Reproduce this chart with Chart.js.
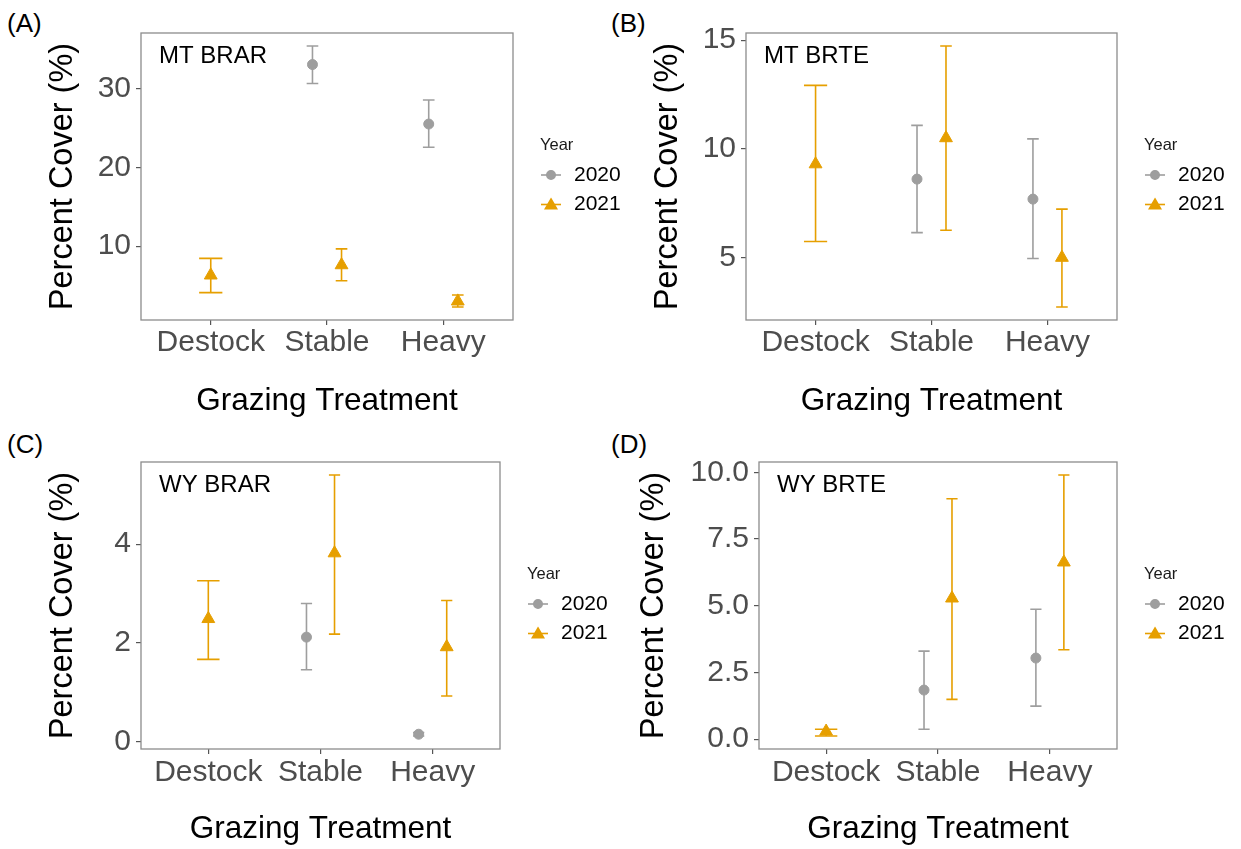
<!DOCTYPE html>
<html>
<head>
<meta charset="utf-8">
<script src="https://cdn.jsdelivr.net/npm/chart.js@4.4.1/dist/chart.umd.min.js"></script>
<style>
  body { margin: 0; background: #fff; width: 1241px; height: 849px; position: relative; overflow: hidden;
         font-family: "Liberation Sans", Arial, sans-serif; }
  canvas { position: absolute; }
  .tag { position: absolute; font-size: 26px; line-height: 26px; color: #000; }
</style>
</head>
<body>
<div class="tag" style="left:7px;top:10px">(A)</div>
<div class="tag" style="left:611px;top:10px">(B)</div>
<div class="tag" style="left:7px;top:431px">(C)</div>
<div class="tag" style="left:611px;top:431px">(D)</div>
<canvas id="chartA" width="640" height="420" style="left:0;top:0"></canvas>
<canvas id="chartB" width="636" height="420" style="left:605px;top:0"></canvas>
<canvas id="chartC" width="640" height="429" style="left:0;top:420px"></canvas>
<canvas id="chartD" width="636" height="429" style="left:605px;top:420px"></canvas>
<script>
const categories = ['Destock', 'Stable', 'Heavy'];
const years = ['2020', '2021'];

// MT BRAR
const mtBrar2020 = [null, 33.05, 25.5];
const mtBrar2020Lo = [null, 30.65, 22.55];
const mtBrar2020Hi = [null, 35.4, 28.55];
const mtBrar2021 = [6.3, 7.6, 3.0];
const mtBrar2021Lo = [4.1, 5.6, 2.28];
const mtBrar2021Hi = [8.45, 9.65, 3.8];

// MT BRTE
const mtBrte2020 = [null, 8.61, 7.69];
const mtBrte2020Lo = [null, 6.15, 4.96];
const mtBrte2020Hi = [null, 11.08, 10.46];
const mtBrte2021 = [9.3, 10.5, 5.0];
const mtBrte2021Lo = [5.74, 6.26, 2.73];
const mtBrte2021Hi = [12.92, 14.73, 7.23];

// WY BRAR
const wyBrar2020 = [null, 2.12, 0.155];
const wyBrar2020Lo = [null, 1.46, 0.12];
const wyBrar2020Hi = [null, 2.8, 0.19];
const wyBrar2021 = [2.49, 3.82, 1.92];
const wyBrar2021Lo = [1.67, 2.18, 0.93];
const wyBrar2021Hi = [3.26, 5.4, 2.86];

// WY BRTE
const wyBrte2020 = [null, 1.84, 3.04];
const wyBrte2020Lo = [null, 0.37, 1.24];
const wyBrte2020Hi = [null, 3.3, 4.87];
const wyBrte2021 = [0.29, 5.28, 6.63];
const wyBrte2021Lo = [0.12, 1.49, 3.35];
const wyBrte2021Hi = [0.37, 9.01, 9.9];

const ticksMtBrar = [10, 20, 30];
const ticksMtBrte = [5, 10, 15];
const ticksWyBrar = [0, 2, 4];
const ticksWyBrte = [0, 2.5, 5, 7.5, 10];

const grey = '#9e9e9e';
const orange = '#E69F00';
const tickGrey = '#4D4D4D';

Chart.defaults.font.family = '"Liberation Sans", Arial, sans-serif';

// error bars under the points, cap width shrinks when two years share a category
const errorBars = {
  id: 'errorBars',
  beforeDatasetsDraw(chart) {
    const ctx = chart.ctx, xs = chart.scales.x, ys = chart.scales.y;
    chart.data.datasets.forEach((ds) => {
      ctx.save();
      ctx.strokeStyle = ds.borderColor;
      ctx.lineWidth = 1.6;
      ds.data.forEach((p) => {
        const x = xs.getPixelForValue(p.x);
        const x0 = xs.getPixelForValue(p.x - p.cap), x1 = xs.getPixelForValue(p.x + p.cap);
        const yLo = ys.getPixelForValue(p.lo), yHi = ys.getPixelForValue(p.hi);
        ctx.beginPath();
        ctx.moveTo(x, yLo); ctx.lineTo(x, yHi);
        ctx.moveTo(x0, yLo); ctx.lineTo(x1, yLo);
        ctx.moveTo(x0, yHi); ctx.lineTo(x1, yHi);
        ctx.stroke();
      });
      ctx.restore();
    });
  }
};

// panel border, site label and the Year legend
const panelDecor = {
  id: 'panelDecor',
  afterDraw(chart, args, opts) {
    const ctx = chart.ctx, a = chart.chartArea;
    ctx.save();
    ctx.strokeStyle = '#8c8c8c';
    ctx.lineWidth = 1.3;
    ctx.strokeRect(a.left, a.top, a.right - a.left, a.bottom - a.top);

    ctx.fillStyle = '#000';
    ctx.font = '24px "Liberation Sans", Arial, sans-serif';
    ctx.textBaseline = 'alphabetic';
    ctx.textAlign = 'left';
    ctx.fillText(opts.label, a.left + 18, a.top + 29.5);

    const cy = (a.top + a.bottom) / 2;
    ctx.textBaseline = 'middle';
    ctx.font = '16.5px "Liberation Sans", Arial, sans-serif';
    ctx.fillStyle = '#1a1a1a';
    ctx.fillText('Year', a.right + 27, cy - 31);
    ctx.font = '21px "Liberation Sans", Arial, sans-serif';
    chart.data.datasets.forEach((ds, i) => {
      const y = cy - 1.5 + i * 29.5;
      ctx.strokeStyle = ds.borderColor;
      ctx.lineWidth = 1.6;
      ctx.beginPath();
      ctx.moveTo(a.right + 28, y); ctx.lineTo(a.right + 48, y);
      ctx.stroke();
      ctx.fillStyle = ds.backgroundColor;
      Chart.helpers.drawPoint(ctx, {
        pointStyle: ds.pointStyle, radius: ds.pointStyle === 'circle' ? 4.2 : 6.5,
        rotation: 0, borderWidth: 1
      }, a.right + 38, y + (ds.pointStyle === 'circle' ? 0 : 1));
      ctx.fillStyle = '#000';
      ctx.fillText(ds.label, a.right + 61, y);
    });
    ctx.restore();
  }
};

function buildPoints(means, los, his, other) {
  const pts = [];
  means.forEach((m, i) => {
    if (m === null) return;
    const paired = other[i] !== null;
    pts.push({ x: i + 1, y: m, lo: los[i], hi: his[i], paired: paired, cap: paired ? 0.05 : 0.1 });
  });
  return pts;
}

function makePanel(id, p) {
  const p2020 = buildPoints(p.v2020, p.lo2020, p.hi2020, p.v2021);
  const p2021 = buildPoints(p.v2021, p.lo2021, p.hi2021, p.v2020);
  p2020.forEach((d) => { if (d.paired) d.x -= 0.125; });
  p2021.forEach((d) => { if (d.paired) d.x += 0.125; });

  // ggplot style 5% expansion of the data range
  const lows = p.lo2020.concat(p.lo2021).filter((v) => v !== null);
  const highs = p.hi2020.concat(p.hi2021).filter((v) => v !== null);
  const lo = Math.min(...lows), hi = Math.max(...highs);
  const pad = (hi - lo) * 0.05;

  return new Chart(document.getElementById(id), {
    type: 'scatter',
    data: {
      datasets: [
        { label: years[0], data: p2020, pointStyle: 'circle', pointRadius: 5, borderWidth: 1,
          backgroundColor: grey, borderColor: grey },
        { label: years[1], data: p2021, pointStyle: 'triangle', pointRadius: 7.4, borderWidth: 1,
          backgroundColor: orange, borderColor: orange }
      ]
    },
    options: {
      responsive: false,
      animation: false,
      devicePixelRatio: 1,
      layout: { padding: { top: p.padTop, right: p.padRight, left: 0, bottom: 0 } },
      plugins: {
        legend: { display: false },
        tooltip: { enabled: false },
        panelDecor: { label: p.label }
      },
      scales: {
        x: {
          type: 'linear',
          min: 0.4,
          max: 3.6,
          afterBuildTicks: (s) => { s.ticks = categories.map((c, i) => ({ value: i + 1 })); },
          afterFit: (s) => { s.height = p.xAxisHeight; },
          grid: { drawOnChartArea: false, drawTicks: true, tickLength: 5, color: '#555', lineWidth: 1.2 },
          border: { display: false },
          ticks: {
            callback: (v) => categories[Math.round(v) - 1],
            color: tickGrey, font: { size: 30 }, padding: p.xTickPad, maxRotation: 0, autoSkip: false
          },
          title: { display: true, text: 'Grazing Treatment', color: '#000', font: { size: 31.5 },
                   padding: { top: 0, bottom: p.xTitlePad } }
        },
        y: {
          min: lo - pad,
          max: hi + pad,
          afterBuildTicks: (s) => { s.ticks = p.ticks.map((v) => ({ value: v })); },
          afterFit: (s) => { s.width = p.yAxisWidth; },
          grid: { drawOnChartArea: false, drawTicks: true, tickLength: 5, color: '#555', lineWidth: 1.2 },
          border: { display: false },
          ticks: {
            callback: (v) => v.toFixed(p.decimals),
            color: tickGrey, font: { size: 30 }, padding: 5
          },
          title: { display: true, text: 'Percent Cover (%)', color: '#000', font: { size: 32.5 },
                   padding: { top: p.yTitlePad, bottom: 0 } }
        }
      }
    },
    plugins: [errorBars, panelDecor]
  });
}

makePanel('chartA', {
  label: 'MT BRAR', v2020: mtBrar2020, lo2020: mtBrar2020Lo, hi2020: mtBrar2020Hi,
  v2021: mtBrar2021, lo2021: mtBrar2021Lo, hi2021: mtBrar2021Hi, ticks: ticksMtBrar, decimals: 0,
  padTop: 33, padRight: 127, yAxisWidth: 141, xAxisHeight: 100, yTitlePad: 43.5, xTitlePad: 0, xTickPad: 0
});
makePanel('chartB', {
  label: 'MT BRTE', v2020: mtBrte2020, lo2020: mtBrte2020Lo, hi2020: mtBrte2020Hi,
  v2021: mtBrte2021, lo2021: mtBrte2021Lo, hi2021: mtBrte2021Hi, ticks: ticksMtBrte, decimals: 0,
  padTop: 33, padRight: 124, yAxisWidth: 141, xAxisHeight: 100, yTitlePad: 43.5, xTitlePad: 0, xTickPad: 0
});
makePanel('chartC', {
  label: 'WY BRAR', v2020: wyBrar2020, lo2020: wyBrar2020Lo, hi2020: wyBrar2020Hi,
  v2021: wyBrar2021, lo2021: wyBrar2021Lo, hi2021: wyBrar2021Hi, ticks: ticksWyBrar, decimals: 0,
  padTop: 42, padRight: 140, yAxisWidth: 141, xAxisHeight: 100, yTitlePad: 43.5, xTitlePad: 1, xTickPad: 1
});
makePanel('chartD', {
  label: 'WY BRTE', v2020: wyBrte2020, lo2020: wyBrte2020Lo, hi2020: wyBrte2020Hi,
  v2021: wyBrte2021, lo2021: wyBrte2021Lo, hi2021: wyBrte2021Hi, ticks: ticksWyBrte, decimals: 1,
  padTop: 42, padRight: 124, yAxisWidth: 154, xAxisHeight: 100, yTitlePad: 30, xTitlePad: 1, xTickPad: 1
});
</script>
</body>
</html>
